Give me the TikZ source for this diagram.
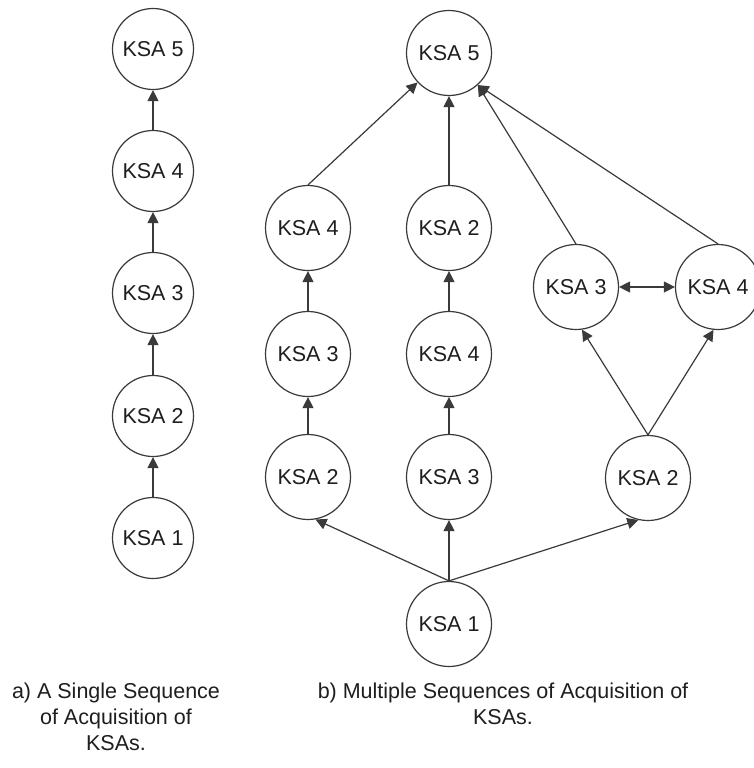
\documentclass[tikz,border=0pt]{standalone}
\usepackage{fontspec}
\setmainfont{Liberation Sans}
\usetikzlibrary{arrows.meta}

\definecolor{linegray}{HTML}{3A3A3A}
\definecolor{textblack}{HTML}{1E1E1E}

\begin{document}
\begin{tikzpicture}[x=1pt,y=-1pt,
  ksa/.style={circle, draw=linegray, line width=1.2pt, minimum size=85pt,
    inner sep=0pt, font=\fontsize{21.5}{25}\selectfont, text=textblack},
  ksanarrow/.style={ksa, minimum size=81pt},
  tip/.tip={Triangle[length=11pt,width=11pt]},
  link/.style={draw=linegray, line width=1.2pt, -tip},
  twoway/.style={link, tip-tip},
  caption/.style={align=center, inner sep=0pt, anchor=north,
    font=\fontsize{21.5}{26}\selectfont, text=textblack}]

\useasboundingbox (0,0) rectangle (754,768);
\fill[white] (0,0) rectangle (754,768);

% a) single sequence
\node[ksanarrow] (l5) at (153,49)  {KSA 5};
\node[ksanarrow] (l4) at (153,171) {KSA 4};
\node[ksanarrow] (l3) at (153,293) {KSA 3};
\node[ksanarrow] (l2) at (153,416) {KSA 2};
\node[ksanarrow] (l1) at (153,538) {KSA 1};

\draw[link] (l1) -- (l2);
\draw[link] (l2) -- (l3);
\draw[link] (l3) -- (l4);
\draw[link] (l4) -- (l5);

% b) multiple sequences
\node[ksa] (m5) at (449,53)  {KSA 5};
\node[ksa] (a4) at (308,228) {KSA 4};
\node[ksa] (a3) at (308,354) {KSA 3};
\node[ksa] (a2) at (308,477) {KSA 2};
\node[ksa] (b2) at (449,228) {KSA 2};
\node[ksa] (b4) at (449,354) {KSA 4};
\node[ksa] (b3) at (449,477) {KSA 3};
\node[ksa] (m1) at (449,624) {KSA 1};
\node[ksa] (c3) at (576,287) {KSA 3};
\node[ksa] (c4) at (718,287) {KSA 4};
\node[ksa] (c2) at (648,478) {KSA 2};

% left branch
\draw[link] (m1.north) -- (a2.-80);
\draw[link] (a2) -- (a3);
\draw[link] (a3) -- (a4);
\draw[link] (a4.north) -- (m5);

% middle branch
\draw[link] (m1) -- (b3);
\draw[link] (b3) -- (b4);
\draw[link] (b4) -- (b2);
\draw[link] (b2) -- (m5);

% right branch
\draw[link] (m1.north) -- (c2.-103);
\draw[link] (c2.north) -- (c3.-82);
\draw[link] (c2.north) -- (c4.-96);
\draw[twoway] (c3) -- (c4);
\draw[link] (c3.north) -- (m5.-48);
\draw[link] (c4.north) -- (m5.-48);

% captions
\node[caption] (capa) at (116,683) {a) A Single Sequence\\of Acquisition of\\KSAs.};
\node[caption] (capb) at (503,683) {b) Multiple Sequences of Acquisition of\\KSAs.};
\end{tikzpicture}
\end{document}
